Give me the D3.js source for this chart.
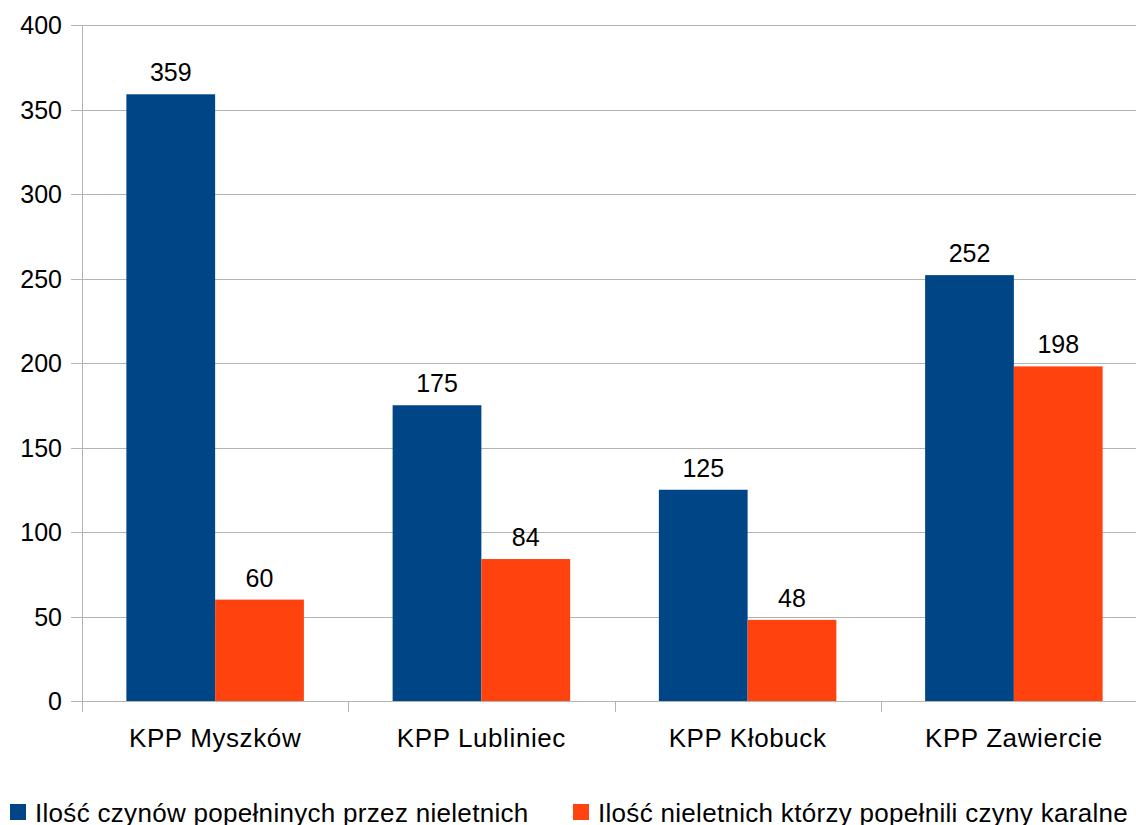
<!DOCTYPE html>
<html>
<head>
<meta charset="utf-8">
<script src="https://cdn.jsdelivr.net/npm/d3@7"></script>
<style>
  body { margin: 0; background: #fff; }
  svg { display: block; font-family: "Liberation Sans", Arial, sans-serif; }
</style>
</head>
<body>
<div id="chart"></div>
<script>
const categories = ["KPP Myszków", "KPP Lubliniec", "KPP Kłobuck", "KPP Zawiercie"];
const seriesNames = ["Ilość czynów popełninych przez nieletnich", "Ilość nieletnich którzy popełnili czyny karalne"];
const czyny = [359, 175, 125, 252];
const nieletni = [60, 84, 48, 198];
const yTicks = [0, 50, 100, 150, 200, 250, 300, 350, 400];
const colors = ["#004586", "#ff420e"];

const W = 1136, H = 825;
const margin = { top: 25, left: 82, bottom: 124 };
const plotW = 1065; // plot runs past the right edge like the source
const plotBottom = H - margin.bottom;

const svg = d3.select("#chart").append("svg")
  .attr("width", W)
  .attr("height", H);

const x = d3.scaleBand()
  .domain(categories)
  .range([margin.left, margin.left + plotW]);

const xInner = d3.scaleBand()
  .domain([0, 1])
  .range([0, x.bandwidth()])
  .paddingOuter(0.5);

const y = d3.scaleLinear()
  .domain([0, 400])
  .range([plotBottom, margin.top]);

// gridlines
svg.append("g")
  .selectAll("line")
  .data(yTicks)
  .join("line")
  .attr("x1", margin.left - 11)
  .attr("x2", margin.left + plotW)
  .attr("y1", d => Math.round(y(d)) + 0.5)
  .attr("y2", d => Math.round(y(d)) + 0.5)
  .attr("stroke", "#b3b3b3")
  .attr("stroke-width", 1);

// y axis line
svg.append("line")
  .attr("x1", margin.left + 0.5).attr("x2", margin.left + 0.5)
  .attr("y1", margin.top).attr("y2", plotBottom + 11)
  .attr("stroke", "#b3b3b3");

// category ticks
svg.append("g")
  .selectAll("line")
  .data(categories.slice(1))
  .join("line")
  .attr("x1", d => Math.round(x(d)) + 0.5)
  .attr("x2", d => Math.round(x(d)) + 0.5)
  .attr("y1", plotBottom)
  .attr("y2", plotBottom + 11)
  .attr("stroke", "#b3b3b3");

// y tick labels
svg.append("g")
  .selectAll("text")
  .data(yTicks)
  .join("text")
  .attr("x", 62)
  .attr("y", d => y(d) + 9)
  .attr("text-anchor", "end")
  .attr("font-size", 25)
  .attr("fill", "#000")
  .text(d => d);

// bars
const data = categories.map((c, i) => ({ cat: c, vals: [czyny[i], nieletni[i]] }));
const groups = svg.append("g")
  .selectAll("g")
  .data(data)
  .join("g")
  .attr("transform", d => `translate(${x(d.cat)},0)`);

groups.selectAll("rect")
  .data(d => d.vals.map((v, k) => ({ v, k })))
  .join("rect")
  .attr("x", d => xInner(d.k))
  .attr("width", xInner.bandwidth())
  .attr("y", d => y(d.v))
  .attr("height", d => plotBottom - y(d.v))
  .attr("fill", d => colors[d.k]);

groups.selectAll("text")
  .data(d => d.vals.map((v, k) => ({ v, k })))
  .join("text")
  .attr("x", d => xInner(d.k) + xInner.bandwidth() / 2)
  .attr("y", d => y(d.v) - 13)
  .attr("text-anchor", "middle")
  .attr("font-size", 25)
  .text(d => d.v);

// category labels
svg.append("g")
  .selectAll("text")
  .data(categories)
  .join("text")
  .attr("x", d => x(d) + x.bandwidth() / 2)
  .attr("y", 747)
  .attr("text-anchor", "middle")
  .attr("font-size", 26)
  .attr("letter-spacing", 0.6)
  .text(d => d);

// legend
const legendX = [10, 573];
const legend = svg.append("g")
  .selectAll("g")
  .data(seriesNames)
  .join("g")
  .attr("transform", (d, i) => `translate(${legendX[i]},804)`);

legend.append("rect")
  .attr("width", 16)
  .attr("height", 16)
  .attr("fill", (d, i) => colors[i]);

legend.append("text")
  .attr("x", 25)
  .attr("y", 18)
  .attr("font-size", 26)
  .attr("letter-spacing", 0.3)
  .text(d => d);
</script>
</body>
</html>
